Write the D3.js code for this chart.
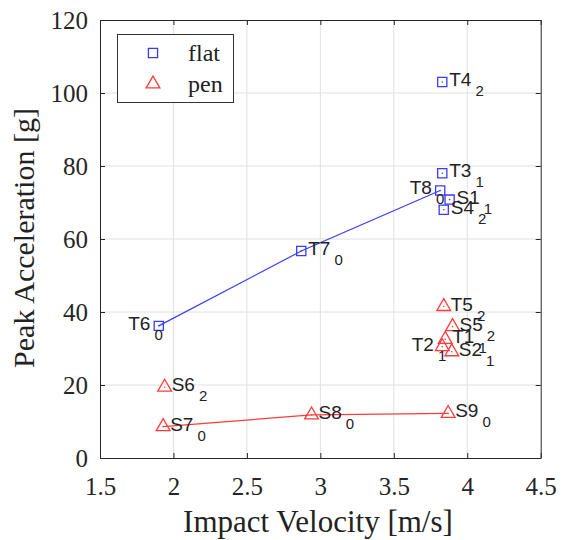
<!DOCTYPE html>
<html>
<head>
<meta charset="utf-8">
<script src="https://cdn.jsdelivr.net/npm/d3@7"></script>
<style>
  body { margin: 0; background: #fff; }
  svg text { fill: #222; }
</style>
</head>
<body>
<svg id="chart" width="563" height="540"></svg>
<script>
// data
var xTicks = [1.5, 2, 2.5, 3, 3.5, 4, 4.5];
var yTicks = [0, 20, 40, 60, 80, 100, 120];

var flatNames = ["T6", "T7", "T8", "T4", "T3", "S1", "S4"];
var flatSubs  = ["0", "0", "0", "2", "1", "1", "2"];
var flatVel   = [1.90, 2.87, 3.816, 3.83, 3.83, 3.88, 3.84];
var flatAcc   = [36.2, 56.7, 73.3, 103, 78, 70.8, 68];

var penNames = ["S7", "S8", "S9", "S6", "T5", "S5", "T1", "T2", "S2"];
var penSubs  = ["0", "0", "0", "2", "2", "2", "1", "1", "1"];
var penVel   = [1.93, 2.94, 3.87, 1.94, 3.84, 3.90, 3.85, 3.83, 3.895];
var penAcc   = [8.6, 11.8, 12.2, 19.4, 41.5, 36, 32.5, 30.5, 29.1];

// labels that sit on the left of the marker
var leftLabels = ["T6", "T8", "T2"];

var blue = "#3a3aff", red = "#ff3b3b";

var svg = d3.select( "#chart" );
var pLeft = 100, pRight = 540.7, pTop = 20, pBottom = 458;

var x = d3.scaleLinear().domain( [1.5, 4.5] ).range( [pLeft, pRight] );
var y = d3.scaleLinear().domain( [0, 120] ).range( [pBottom, pTop] );

// grid
svg.append( "g" )
	.selectAll( "line" )
	.data( xTicks.slice( 1, -1 ) )
	.enter().append( "line" )
		.attr( "x1", function( d ) { return x( d ); } )
		.attr( "x2", function( d ) { return x( d ); } )
		.attr( "y1", pTop ).attr( "y2", pBottom )
		.style( "stroke", "#e0e0e0" );

svg.append( "g" )
	.selectAll( "line" )
	.data( yTicks.slice( 1, -1 ) )
	.enter().append( "line" )
		.attr( "y1", function( d ) { return y( d ); } )
		.attr( "y2", function( d ) { return y( d ); } )
		.attr( "x1", pLeft ).attr( "x2", pRight )
		.style( "stroke", "#e0e0e0" );

// axes, ticks inside
var fmt = d3.format( "~g" );
svg.append( "g" )
	.attr( "transform", "translate(0," + pBottom + ")" )
	.call( d3.axisBottom( x ).tickValues( xTicks ).tickFormat( fmt ).tickSizeInner( -5 ).tickSizeOuter( 0 ).tickPadding( 19 ) );
svg.append( "g" )
	.attr( "transform", "translate(0," + pTop + ")" )
	.call( d3.axisTop( x ).tickValues( xTicks ).tickSizeInner( -5 ).tickSizeOuter( 0 ).tickFormat( "" ) );
svg.append( "g" )
	.attr( "transform", "translate(" + pLeft + ",0)" )
	.call( d3.axisLeft( y ).tickValues( yTicks ).tickFormat( fmt ).tickSizeInner( -5 ).tickSizeOuter( 0 ).tickPadding( 12 ) );
svg.append( "g" )
	.attr( "transform", "translate(" + pRight + ",0)" )
	.call( d3.axisRight( y ).tickValues( yTicks ).tickSizeInner( -5 ).tickSizeOuter( 0 ).tickFormat( "" ) );

svg.selectAll( ".domain, .tick line" ).style( "stroke", "#262626" );
svg.selectAll( ".tick text" )
	.style( "font-family", "'Liberation Serif', 'Times New Roman', serif" )
	.style( "font-size", "25px" )
	.style( "fill", "#262626" );

svg.append( "text" )
	.attr( "x", 318 )
	.attr( "y", 532 )
	.attr( "text-anchor", "middle" )
	.style( "font-family", "'Liberation Serif', serif" )
	.style( "font-size", "31px" )
	.text( "Impact Velocity [m/s]" );

svg.append( "text" )
	.attr( "transform", "translate(34,238) rotate(-90)" )
	.attr( "text-anchor", "middle" )
	.style( "font-family", "'Liberation Serif', serif" )
	.style( "font-size", "30px" )
	.text( "Peak Acceleration [g]" );

// series
function pts( names, subs, vel, acc ) {
	return names.map( function( n, i ) {
		return { name: n, sub: subs[i], v: vel[i], a: acc[i] };
	} );
}
var flat = pts( flatNames, flatSubs, flatVel, flatAcc );
var pen = pts( penNames, penSubs, penVel, penAcc );

var line = d3.line()
	.x( function( d ) { return x( d.v ); } )
	.y( function( d ) { return y( d.a ); } );

function fitLine( data, color ) {
	var zero = data.filter( function( d ) { return d.sub == "0"; } )
		.sort( function( a, b ) { return a.v - b.v; } );
	svg.append( "path" )
		.datum( zero )
		.attr( "d", line )
		.style( "fill", "none" )
		.style( "stroke", color )
		.style( "stroke-width", 1.2 );
}
fitLine( flat, blue );
fitLine( pen, red );

var square = d3.symbol().type( d3.symbolSquare ).size( 84 );
var triangle = d3.symbol().type( d3.symbolTriangle ).size( 82 );

function markers( data, sym, color ) {
	var g = svg.append( "g" );
	g.selectAll( "path" )
		.data( data )
		.enter().append( "path" )
			.attr( "d", sym )
			.attr( "transform", function( d ) { return "translate(" + x( d.v ) + "," + y( d.a ) + ")"; } )
			.style( "fill", "none" )
			.style( "stroke", color )
			.style( "stroke-width", 1.3 );
	g.selectAll( "circle" )
		.data( data )
		.enter().append( "circle" )
			.attr( "cx", function( d ) { return x( d.v ); } )
			.attr( "cy", function( d ) { return y( d.a ); } )
			.attr( "r", 0.8 )
			.style( "fill", color );
}

function labels( data ) {
	var t = svg.append( "g" )
		.selectAll( "text" )
		.data( data )
		.enter().append( "text" )
			.attr( "x", function( d ) {
				return leftLabels.indexOf( d.name ) >= 0 ? x( d.v ) + 4 : x( d.v ) + 7;
			} )
			.attr( "y", function( d ) { return y( d.a ) + 4; } )
			.attr( "text-anchor", function( d ) {
				return leftLabels.indexOf( d.name ) >= 0 ? "end" : "start";
			} )
			.style( "font-family", "'Liberation Sans', Arial, sans-serif" )
			.style( "font-size", "19px" );
	t.append( "tspan" ).text( function( d ) { return d.name; } );
	t.append( "tspan" )
		.attr( "dx", 4 )
		.attr( "dy", 10 )
		.style( "font-size", "15px" )
		.text( function( d ) { return d.sub; } );
}

markers( flat, square, blue );
markers( pen, triangle, red );
labels( flat );
labels( pen );

// legend
var lg = svg.append( "g" ).attr( "class", "legenda" );
lg.append( "rect" )
	.attr( "x", 117.5 ).attr( "y", 34.5 )
	.attr( "width", 116 ).attr( "height", 68 )
	.style( "fill", "#fff" )
	.style( "stroke", "#333" );
var legendItems = [ { name: "flat", sym: square, color: blue }, { name: "pen", sym: triangle, color: red } ];
legendItems.forEach( function( it, i ) {
	lg.append( "path" )
		.attr( "d", it.sym )
		.attr( "transform", "translate(153," + ( 53 + 31 * i ) + ")" )
		.style( "fill", "none" )
		.style( "stroke", it.color )
		.style( "stroke-width", 1.3 );
	lg.append( "text" )
		.attr( "x", 188 )
		.attr( "y", 61 + 31 * i )
		.style( "font-family", "'Liberation Serif', serif" )
		.style( "font-size", "24px" )
		.text( it.name );
} );
</script>
</body>
</html>
